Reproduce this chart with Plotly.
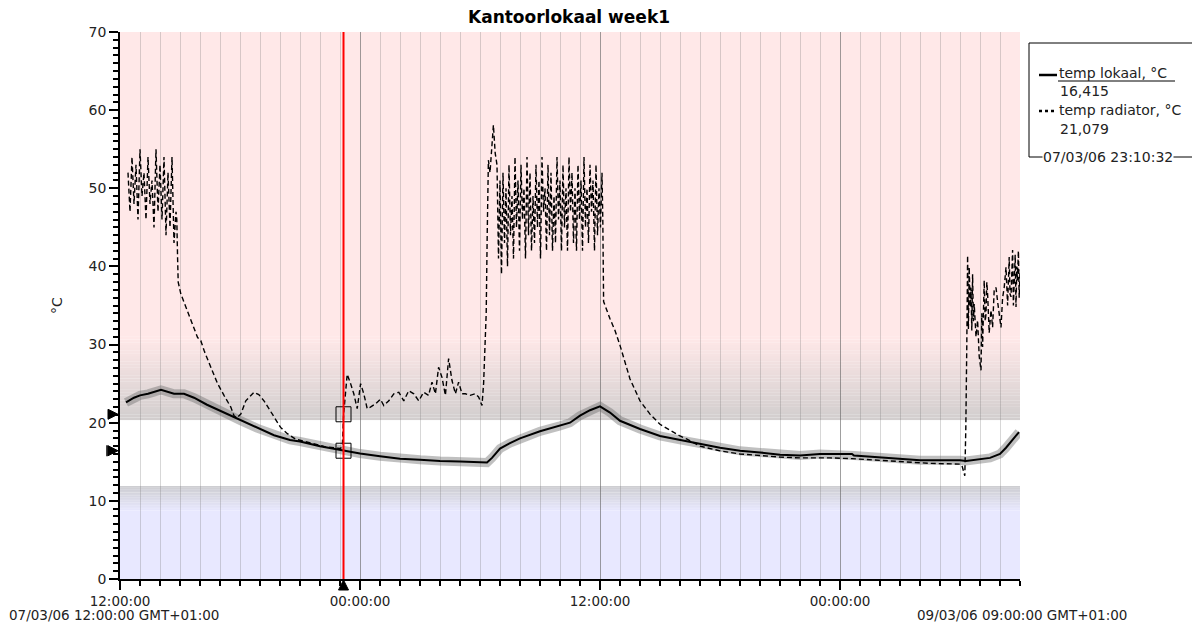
import pandas as pd
import plotly.graph_objects as go

# ---------------- data ----------------
BASE = pd.Timestamp("2006-03-07 12:00:00")
END = pd.Timestamp("2006-03-09 09:00:00")
CURSOR = pd.Timestamp("2006-03-07 23:10:32")

title_text = "Kantoorlokaal week1"
y_unit = "°C"
series_names = ["temp lokaal, °C", "temp radiator, °C"]
cursor_lokaal = 16.415
cursor_radiator = 21.079
tick_times = ["2006-03-07 12:00:00", "2006-03-08 00:00:00",
              "2006-03-08 12:00:00", "2006-03-09 00:00:00"]
tick_labels = ["12:00:00", "00:00:00", "12:00:00", "00:00:00"]
start_label = "07/03/06 12:00:00 GMT+01:00"
end_label = "09/03/06 09:00:00 GMT+01:00"
cursor_label = "07/03/06 23:10:32"

# hours after 07/03/06 12:00
lokaal_hours = [0.3, 0.7, 1.0, 1.4, 2.05, 2.7, 3.2, 3.7, 4.35, 5.2, 6.0, 6.85, 7.7,
                8.5, 9.0, 10.0, 11.0, 11.18, 12.0, 13.0, 14.0, 15.0, 16.0, 17.0,
                18.0, 18.35, 18.6, 19.0, 19.5, 20.0, 21.0, 22.0, 22.5, 23.0, 23.5,
                24.0, 24.5, 25.0, 26.0, 27.0, 28.0, 29.0, 30.0, 31.0, 32.0, 33.0,
                34.0, 35.0, 36.6, 36.7, 38.1, 40.0, 42.0, 42.3, 43.5, 44.0, 44.3, 44.95]
lokaal_temp = [22.6, 23.2, 23.5, 23.7, 24.2, 23.7, 23.7, 23.2, 22.3, 21.3, 20.3, 19.3, 18.4,
               17.8, 17.6, 17.0, 16.5, 16.415, 16.05, 15.7, 15.4, 15.25, 15.1, 15.05,
               14.9, 14.9, 15.5, 16.7, 17.4, 18.0, 18.9, 19.6, 20.0, 20.9, 21.6,
               22.1, 21.3, 20.25, 19.2, 18.3, 17.8, 17.3, 16.8, 16.4, 16.2, 15.9,
               15.8, 16.0, 16.0, 15.8, 15.55, 15.2, 15.2, 15.1, 15.5, 16.0, 16.8, 18.8]

radiator_hours = [
    0.4, 0.5, 0.6, 0.7, 0.8, 0.9, 1.0, 1.1, 1.2, 1.3, 1.4, 1.5, 1.6, 1.7, 1.8, 1.9,
    2.0, 2.1, 2.2, 2.3, 2.4, 2.5, 2.6, 2.7, 2.8,
    2.84, 2.88, 2.91, 3.04, 3.29, 3.54, 3.79, 3.88, 4.04, 4.21, 4.54, 4.88, 5.20,
    5.54, 5.70, 5.84, 6.04, 6.29, 6.70, 6.94, 7.20, 7.62, 8.03, 8.37, 8.78, 9.53,
    10.28, 11.03, 11.12, 11.18, 11.28,
    11.36, 11.53, 11.69, 11.86, 12.03, 12.19, 12.36, 12.52, 12.77, 13.02, 13.19,
    13.44, 13.69, 13.94, 14.19, 14.44, 14.69, 14.94, 15.18, 15.43, 15.60, 15.77,
    15.93, 16.10, 16.27, 16.43, 16.60, 16.77, 16.93, 17.10, 17.27, 17.51, 17.76,
    17.93, 18.10, 18.18, 18.21, 18.26, 18.31, 18.36, 18.42, 18.50, 18.67, 18.76,
    18.85, 18.925, 19.0, 19.075, 19.15, 19.225, 19.3, 19.375, 19.45, 19.525,
    19.6, 19.675, 19.75, 19.825, 19.9, 19.975, 20.05, 20.125, 20.2, 20.275,
    20.35, 20.425, 20.5, 20.575, 20.65, 20.725, 20.8, 20.875, 20.95, 21.025,
    21.1, 21.175, 21.25, 21.325, 21.4, 21.475, 21.55, 21.625, 21.7, 21.775,
    21.85, 21.925, 22.0, 22.075, 22.15, 22.225, 22.3, 22.375, 22.45, 22.525,
    22.6, 22.675, 22.75, 22.825, 22.9, 22.975, 23.05, 23.125, 23.2, 23.275,
    23.35, 23.425, 23.5, 23.575, 23.65, 23.725, 23.8, 23.875, 23.95, 24.025,
    24.1, 24.14, 24.18,
    24.50, 24.75, 25.0, 25.25, 25.5, 26.0, 26.5, 27.0, 27.5, 28.0, 28.35, 29.0,
    30.0, 31.0, 32.0, 33.0, 34.0, 35.5, 36.6, 38.0, 39.0, 40.5, 42.0, 42.1,
    42.24, 42.29, 42.34,
    42.38, 42.42, 42.46, 42.51, 42.55, 42.59, 42.63, 42.67, 42.71, 42.80, 42.88,
    42.96, 43.05, 43.09, 43.13, 43.21, 43.26, 43.30, 43.34, 43.38, 43.46, 43.55,
    43.63, 43.71, 43.80, 43.88, 43.96, 44.05, 44.13, 44.21, 44.30, 44.38, 44.46,
    44.50, 44.55, 44.59, 44.63, 44.67, 44.71, 44.76, 44.80, 44.84, 44.87, 44.92,
    44.96, 45.0]
radiator_temp = [
    52, 47, 54, 48, 53, 46, 55, 49, 52, 46, 54, 48, 51, 45, 55, 47,
    53, 46, 54, 44, 52, 45, 54, 43, 47,
    46, 41, 38, 36.5, 34.8, 33.1, 31.4, 30.9, 30.5, 29.2, 27.1, 25.0, 23.5,
    22.0, 20.9, 20.6, 21.1, 22.8, 23.9, 23.6, 22.8, 21.1, 19.4, 18.6, 17.9, 17.4,
    16.9, 16.7, 17.2, 21.079, 24.0,
    26.2, 25.0, 23.7, 21.8, 25.0, 23.7, 21.8, 22.0, 22.4, 23.0, 22.2,
    22.8, 23.7, 23.9, 22.8, 24.1, 23.7, 22.8, 23.9, 23.5, 25.2, 23.7,
    27.1, 25.8, 23.5, 28.2, 25.4, 23.7, 25.2, 23.7, 23.7, 23.5, 23.7,
    23.3, 22.2, 25.0, 26.7, 29.2, 34.0, 44.0, 53.6, 52.0, 58.1, 54.5,
    53, 41, 51, 39, 52, 43, 50, 40, 53, 44,
    49, 41, 54, 45, 51, 42, 53, 46, 50, 41,
    54, 44, 52, 42, 49, 43, 53, 45, 51, 41,
    54, 47, 50, 42, 53, 44, 52, 42, 49, 43,
    54, 46, 51, 42, 53, 45, 50, 42, 54, 47,
    52, 43, 50, 42, 53, 46, 51, 42, 54, 45,
    50, 43, 53, 47, 51, 42, 53, 44, 50, 45,
    52, 46, 35.5,
    33.3, 31.8, 29.9, 27.9, 25.6, 22.8, 21.1, 19.8, 19.0, 18.3, 17.9, 17.0,
    16.4, 16.0, 15.8, 15.6, 15.5, 15.5, 15.4, 15.2, 15.0, 14.8, 14.7, 14.5,
    13.2, 19.2, 30.0,
    41.4, 32.0, 39.9, 34.8, 37.3, 31.8, 39.0, 33.0, 35.2, 31.0, 33.1,
    28.5, 26.7, 34.0, 29.7, 38.2, 33.0, 33.9, 38.0, 36.5, 31.5, 34.4,
    32.2, 37.0, 37.3, 35.5, 33.9, 32.2, 36.0, 37.3, 39.9, 35.0, 41.2,
    36.5, 36.1, 40.5, 42.1, 35.0, 37.8, 41.5, 34.8, 40.0, 38.2, 42.0,
    36.0, 39.5]

assert len(lokaal_hours) == len(lokaal_temp)
assert len(radiator_hours) == len(radiator_temp)


def to_time(hours):
    return [BASE + pd.Timedelta(hours=h) for h in hours]


lok_x = to_time(lokaal_hours)
rad_x = to_time(radiator_hours)

# ---------------- pixel helpers for layout decoration ----------------
PL, PR, PT, PB = 120, 1020, 32, 579   # plot area in pixels
W, H = 1192, 626


def px(x):
    return (x - PL) / (PR - PL)


def py(y):
    return (PB - y) / (PB - PT)


FONT = "DejaVu Sans"
fig = go.Figure()

fig.add_trace(go.Scatter(x=lok_x, y=lokaal_temp, mode="lines",
                         line=dict(color="rgba(105,105,105,0.42)", width=9),
                         hoverinfo="skip", showlegend=False))
fig.add_trace(go.Scatter(x=rad_x, y=radiator_temp, mode="lines", name=series_names[1],
                         line=dict(color="black", width=1.4, dash="5px,3px"),
                         showlegend=False))
fig.add_trace(go.Scatter(x=lok_x, y=lokaal_temp, mode="lines", name=series_names[0],
                         line=dict(color="black", width=2), showlegend=False))

# cursor brackets on the series
fig.add_trace(go.Scatter(x=[CURSOR, CURSOR], y=[cursor_radiator, cursor_lokaal],
                         mode="markers", showlegend=False, hoverinfo="skip",
                         marker=dict(symbol="square-open", size=15, color="black",
                                     line=dict(width=1, color="black"))))

# ---------------- background bands ----------------
shapes = []


def band(y0, y1, color):
    shapes.append(dict(type="rect", xref="paper", yref="y", x0=0, x1=1, y0=y0, y1=y1,
                       fillcolor=color, line=dict(width=0), layer="below"))


pink = (255, 232, 232)
gray_hi = (210, 206, 206)
lav = (232, 232, 255)
gray_lo = (206, 206, 210)
band(31.0, 70, "rgb(%d,%d,%d)" % pink)
n = 30
g0, g1 = 20.3, 31.0
for i in range(n):
    a = i / (n - 1)
    c = tuple(round(gray_hi[k] + (pink[k] - gray_hi[k]) * a) for k in range(3))
    band(g0 + (g1 - g0) * i / n, g0 + (g1 - g0) * (i + 1) / n + 0.02, "rgb(%d,%d,%d)" % c)
band(11.9, 20.3, "white")
n2 = 16
h0, h1 = 11.9, 8.6
for i in range(n2):
    a = i / (n2 - 1)
    c = tuple(round(gray_lo[k] + (lav[k] - gray_lo[k]) * a) for k in range(3))
    band(h0 - (h0 - h1) * (i + 1) / n2 - 0.02, h0 - (h0 - h1) * i / n2, "rgb(%d,%d,%d)" % c)
band(0, 8.6, "rgb(%d,%d,%d)" % lav)

# red cursor line
shapes.append(dict(type="line", xref="x", yref="y", x0=CURSOR, x1=CURSOR, y0=0, y1=70,
                   line=dict(color="#ff0000", width=2), layer="above"))

# cursor value indicators on the y axis (right-pointing triangles) and on the x axis
for v in (cursor_radiator, cursor_lokaal):
    shapes.append(dict(type="path", xref="paper", yref="y", xsizemode="pixel",
                       ysizemode="pixel", xanchor=0, yanchor=v,
                       path="M -12,5 L -2,0 L -12,-5 Z", fillcolor="black",
                       line=dict(color="black", width=1)))
shapes.append(dict(type="line", xref="paper", yref="y", xsizemode="pixel", xanchor=0,
                   x0=-13, x1=-13, y0=cursor_lokaal - 0.7, y1=cursor_lokaal + 0.7,
                   line=dict(color="black", width=1.5)))
shapes.append(dict(type="path", xref="x", yref="paper", xsizemode="pixel",
                   ysizemode="pixel", xanchor=CURSOR, yanchor=0,
                   path="M -5,-11 L 0,-1 L 5,-11 Z", fillcolor="black",
                   line=dict(color="black", width=1)))

# legend box (paper coordinates from pixels)
shapes.append(dict(type="rect", xref="paper", yref="paper", x0=px(1029), x1=px(1200),
                   y0=py(157), y1=py(43), line=dict(color="black", width=1),
                   fillcolor="rgba(0,0,0,0)"))
shapes.append(dict(type="line", xref="paper", yref="paper", x0=px(1039), x1=px(1057),
                   y0=py(75), y1=py(75), line=dict(color="black", width=2.5)))
shapes.append(dict(type="line", xref="paper", yref="paper", x0=px(1058), x1=px(1175),
                   y0=py(81), y1=py(81), line=dict(color="black", width=1)))
shapes.append(dict(type="line", xref="paper", yref="paper", x0=px(1039), x1=px(1057),
                   y0=py(111), y1=py(111), line=dict(color="black", width=2.5, dash="dot")))

annotations = [
    dict(text="<b>%s</b>" % title_text, xref="paper", yref="paper", x=px(569), y=py(17),
         showarrow=False, font=dict(family=FONT, size=17, color="black"),
         xanchor="center", yanchor="middle"),
    dict(text=y_unit, xref="paper", yref="paper", x=px(57), y=py(305), textangle=-90,
         showarrow=False, font=dict(family=FONT, size=14, color="#222"),
         xanchor="center", yanchor="middle"),
    dict(text=start_label, xref="paper", yref="paper", x=px(7), y=py(615),
         showarrow=False, font=dict(family=FONT, size=13.5, color="#222"),
         xanchor="left", yanchor="middle"),
    dict(text=end_label, xref="paper", yref="paper", x=px(1129), y=py(615),
         showarrow=False, font=dict(family=FONT, size=13.5, color="#222"),
         xanchor="right", yanchor="middle"),
    dict(text=series_names[0], xref="paper", yref="paper", x=px(1057), y=py(73),
         showarrow=False, font=dict(family=FONT, size=14, color="#222"),
         xanchor="left", yanchor="middle"),
    dict(text=("%.3f" % cursor_lokaal).replace(".", ","), xref="paper", yref="paper",
         x=px(1058), y=py(91), showarrow=False,
         font=dict(family=FONT, size=14, color="#222"), xanchor="left", yanchor="middle"),
    dict(text=series_names[1], xref="paper", yref="paper", x=px(1057), y=py(110),
         showarrow=False, font=dict(family=FONT, size=14, color="#222"),
         xanchor="left", yanchor="middle"),
    dict(text=("%.3f" % cursor_radiator).replace(".", ","), xref="paper", yref="paper",
         x=px(1058), y=py(129), showarrow=False,
         font=dict(family=FONT, size=14, color="#222"), xanchor="left", yanchor="middle"),
    dict(text=cursor_label, xref="paper", yref="paper", x=px(1108), y=py(157),
         showarrow=False, font=dict(family=FONT, size=14, color="#222"),
         xanchor="center", yanchor="middle", bgcolor="white", borderpad=0),
]

fig.update_layout(
    width=W, height=H,
    margin=dict(l=PL, r=W - PR, t=PT, b=H - PB, pad=0),
    paper_bgcolor="white", plot_bgcolor="white",
    shapes=shapes, annotations=annotations,
    font=dict(family=FONT, size=13, color="#222"),
    xaxis=dict(type="date", range=[BASE, END], tickmode="array",
               tickvals=tick_times, ticktext=tick_labels,
               ticks="outside", ticklen=9, tickwidth=1.5, tickcolor="black",
               showline=True, linecolor="black", linewidth=1.5,
               showgrid=True, gridcolor="rgba(90,90,90,0.45)", gridwidth=1,
               zeroline=False, tickfont=dict(family=FONT, size=13.5, color="#222"),
               minor=dict(tickmode="linear", tick0=str(BASE), dtick=3600000,
                          ticks="outside", ticklen=5, tickwidth=1.5, tickcolor="black",
                          showgrid=True, gridcolor="rgba(110,110,110,0.28)", gridwidth=1),
               fixedrange=True),
    yaxis=dict(range=[0, 70], tickmode="linear", tick0=0, dtick=10,
               ticks="outside", ticklen=9, tickwidth=1.5, tickcolor="black",
               showline=True, linecolor="black", linewidth=1.5,
               showgrid=False, zeroline=False,
               tickfont=dict(family=FONT, size=14, color="#222"),
               minor=dict(tickmode="linear", tick0=0, dtick=1, ticks="outside",
                          ticklen=5, tickwidth=1.5, tickcolor="black", showgrid=False),
               fixedrange=True),
)

fig.write_html("out.html")
